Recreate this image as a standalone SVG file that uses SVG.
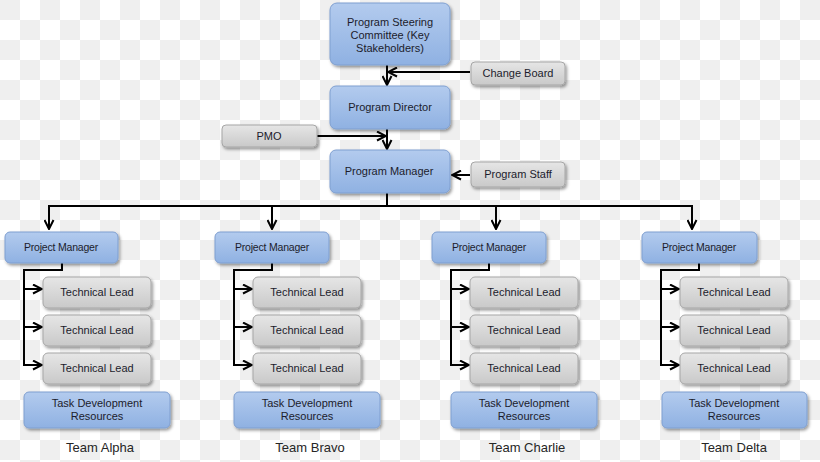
<svg xmlns="http://www.w3.org/2000/svg" width="820" height="462" viewBox="0 0 820 462">
<defs>
<pattern id="chk" width="40" height="40" patternUnits="userSpaceOnUse">
<rect width="40" height="40" fill="#ffffff"/>
<rect width="20" height="20" fill="#efefef"/>
<rect x="20" y="20" width="20" height="20" fill="#efefef"/>
</pattern>
<linearGradient id="gb" x1="0" y1="0" x2="0" y2="1">
<stop offset="0" stop-color="#b3cbee"/>
<stop offset="1" stop-color="#8fb1e2"/>
</linearGradient>
<linearGradient id="gg" x1="0" y1="0" x2="0" y2="1">
<stop offset="0" stop-color="#e6e6e6"/>
<stop offset="1" stop-color="#c9c9c9"/>
</linearGradient>
<filter id="sh" x="-10%" y="-10%" width="125%" height="140%">
<feDropShadow dx="1.5" dy="2" stdDeviation="1.5" flood-color="#000" flood-opacity="0.4"/>
</filter>
<marker id="ar" viewBox="0 0 11 11" refX="10" refY="5.5" markerWidth="11" markerHeight="11" markerUnits="userSpaceOnUse" orient="auto">
<polyline points="1,1 10,5.5 1,10" fill="none" stroke="#000" stroke-width="2"/>
</marker>
<style>
.b{fill:url(#gb);stroke:#7f9fd0;stroke-width:1;filter:url(#sh)}
.g{fill:url(#gg);stroke:#a6a6a6;stroke-width:1;filter:url(#sh)}
text{font-family:"Liberation Sans",Arial,sans-serif;font-size:11px;fill:#1c1c2c;text-anchor:middle}
.pm{font-size:10.5px;letter-spacing:-0.2px}
.lbl{font-size:13px;fill:#262626}
.c{fill:none;stroke:#000;stroke-width:2}
.ca{fill:none;stroke:#000;stroke-width:2;marker-end:url(#ar)}
</style>
</defs>
<rect width="820" height="462" fill="url(#chk)"/>

<g id="connectors">
<path class="ca" d="M387,65 V85"/>
<path class="ca" d="M470,72 H388"/>
<path class="ca" d="M387,129 V149"/>
<path class="ca" d="M317,136 H386"/>
<path class="ca" d="M470,175 H452"/>
<path class="c" d="M387,193 V206"/>
<path class="c" d="M48,206 H693"/>
<path class="ca" d="M49,205 V229"/>
<path class="ca" d="M272,205 V229"/>
<path class="ca" d="M496,205 V229"/>
<path class="ca" d="M692,205 V229"/>
<path class="c" d="M62,263 V270 H24 V365"/>
<path class="ca" d="M23,289 H42"/>
<path class="ca" d="M23,327 H42"/>
<path class="ca" d="M23,365 H42"/>
<path class="c" d="M272,263 V270 H234 V365"/>
<path class="ca" d="M233,289 H252"/>
<path class="ca" d="M233,327 H252"/>
<path class="ca" d="M233,365 H252"/>
<path class="c" d="M489,263 V270 H451 V365"/>
<path class="ca" d="M450,289 H469"/>
<path class="ca" d="M450,327 H469"/>
<path class="ca" d="M450,365 H469"/>
<path class="c" d="M699,263 V270 H661 V365"/>
<path class="ca" d="M660,289 H679"/>
<path class="ca" d="M660,327 H679"/>
<path class="ca" d="M660,365 H679"/>
</g>

<g id="steering">
<rect class="b" x="330" y="3" width="120" height="62" rx="7"/>
<text x="390" y="26">Program Steering</text>
<text x="390" y="39">Committee (Key</text>
<text x="390" y="52">Stakeholders)</text>
</g>
<g id="changeboard">
<rect class="g" x="471" y="62" width="94" height="23" rx="4"/>
<text x="518" y="77">Change Board</text>
</g>
<g id="director">
<rect class="b" x="330" y="86" width="120" height="43" rx="6"/>
<text x="390" y="111">Program Director</text>
</g>
<g id="pmo">
<rect class="g" x="222" y="125" width="95" height="22" rx="4"/>
<text x="269" y="140">PMO</text>
</g>
<g id="manager">
<rect class="b" x="330" y="150" width="120" height="43" rx="6"/>
<text x="389" y="175">Program Manager</text>
</g>
<g id="staff">
<rect class="g" x="471" y="162" width="94" height="25" rx="4"/>
<text x="518" y="178">Program Staff</text>
</g>

<g id="alpha-pm"><rect class="b" x="5" y="232" width="113" height="31" rx="5"/><text class="pm" x="61" y="251">Project Manager</text></g>
<g id="alpha-tl1"><rect class="g" x="43" y="277" width="108" height="31" rx="5"/><text x="97" y="296">Technical Lead</text></g>
<g id="alpha-tl2"><rect class="g" x="43" y="315" width="108" height="31" rx="5"/><text x="97" y="334">Technical Lead</text></g>
<g id="alpha-tl3"><rect class="g" x="43" y="353" width="108" height="31" rx="5"/><text x="97" y="372">Technical Lead</text></g>
<g id="alpha-tdr"><rect class="b" x="24" y="392" width="146" height="36" rx="5"/><text x="97" y="407">Task Development</text><text x="97" y="420">Resources</text></g>
<g id="alpha-label"><text class="lbl" x="100" y="452">Team Alpha</text></g>

<g id="bravo-pm"><rect class="b" x="215" y="232" width="114" height="31" rx="5"/><text class="pm" x="272" y="251">Project Manager</text></g>
<g id="bravo-tl1"><rect class="g" x="253" y="277" width="108" height="31" rx="5"/><text x="307" y="296">Technical Lead</text></g>
<g id="bravo-tl2"><rect class="g" x="253" y="315" width="108" height="31" rx="5"/><text x="307" y="334">Technical Lead</text></g>
<g id="bravo-tl3"><rect class="g" x="253" y="353" width="108" height="31" rx="5"/><text x="307" y="372">Technical Lead</text></g>
<g id="bravo-tdr"><rect class="b" x="234" y="392" width="146" height="36" rx="5"/><text x="307" y="407">Task Development</text><text x="307" y="420">Resources</text></g>
<g id="bravo-label"><text class="lbl" x="310" y="452">Team Bravo</text></g>

<g id="charlie-pm"><rect class="b" x="432" y="232" width="114" height="31" rx="5"/><text class="pm" x="489" y="251">Project Manager</text></g>
<g id="charlie-tl1"><rect class="g" x="470" y="277" width="108" height="31" rx="5"/><text x="524" y="296">Technical Lead</text></g>
<g id="charlie-tl2"><rect class="g" x="470" y="315" width="108" height="31" rx="5"/><text x="524" y="334">Technical Lead</text></g>
<g id="charlie-tl3"><rect class="g" x="470" y="353" width="108" height="31" rx="5"/><text x="524" y="372">Technical Lead</text></g>
<g id="charlie-tdr"><rect class="b" x="451" y="392" width="146" height="36" rx="5"/><text x="524" y="407">Task Development</text><text x="524" y="420">Resources</text></g>
<g id="charlie-label"><text class="lbl" x="527" y="452">Team Charlie</text></g>

<g id="delta-pm"><rect class="b" x="642" y="232" width="115" height="31" rx="5"/><text class="pm" x="699" y="251">Project Manager</text></g>
<g id="delta-tl1"><rect class="g" x="680" y="277" width="108" height="31" rx="5"/><text x="734" y="296">Technical Lead</text></g>
<g id="delta-tl2"><rect class="g" x="680" y="315" width="108" height="31" rx="5"/><text x="734" y="334">Technical Lead</text></g>
<g id="delta-tl3"><rect class="g" x="680" y="353" width="108" height="31" rx="5"/><text x="734" y="372">Technical Lead</text></g>
<g id="delta-tdr"><rect class="b" x="662" y="392" width="145" height="36" rx="5"/><text x="734" y="407">Task Development</text><text x="734" y="420">Resources</text></g>
<g id="delta-label"><text class="lbl" x="734" y="452">Team Delta</text></g>
</svg>
